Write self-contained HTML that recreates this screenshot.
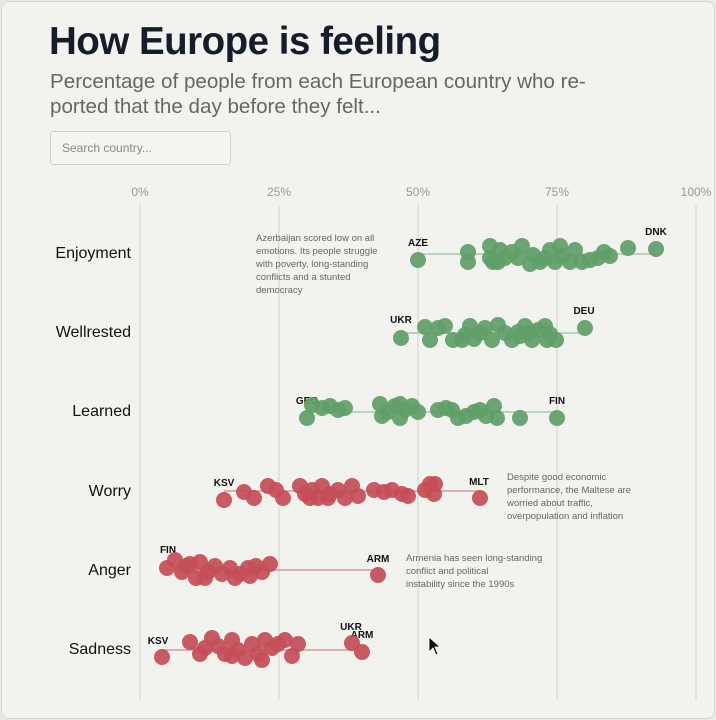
<!DOCTYPE html>
<html><head><meta charset="utf-8"><style>
body{margin:0;width:716px;height:720px;background:#e9e9e6;font-family:"Liberation Sans",sans-serif;overflow:hidden}
.card{position:absolute;left:1px;top:1px;width:712px;height:716px;background:#f2f2ef;border:1px solid #d8d8d4;border-radius:8px}
h1{position:absolute;left:49px;top:20px;margin:0;font-size:38.5px;font-weight:bold;color:#151d2b;letter-spacing:-0.5px}
.sub{position:absolute;left:50px;top:69px;width:600px;font-size:20.6px;line-height:25px;color:#666}
.search{position:absolute;left:50px;top:131px;width:181px;height:34px;border:1px solid #d0d0cc;border-radius:3px;background:#f4f4f1;font-size:12px;color:#888;line-height:33px;padding-left:11px;box-sizing:border-box}
</style></head><body>
<div class="card"></div>
<h1>How Europe is feeling</h1>
<div class="sub">Percentage of people from each European country who re-<br>ported that the day before they felt...</div>
<div class="search">Search country...</div>
<svg width="716" height="720" style="position:absolute;left:0;top:0" font-family="Liberation Sans, sans-serif">
<g stroke="#dcdcd8" stroke-width="1.5">
<line x1="140" y1="205" x2="140" y2="700"/><line x1="279" y1="205" x2="279" y2="700"/><line x1="418" y1="205" x2="418" y2="700"/><line x1="557" y1="205" x2="557" y2="700"/><line x1="696" y1="205" x2="696" y2="700"/>
</g>
<g font-size="12" fill="#999" text-anchor="middle">
<text x="140" y="196">0%</text><text x="279" y="196">25%</text><text x="418" y="196">50%</text><text x="557" y="196">75%</text><text x="696" y="196">100%</text>
</g>
<g font-size="16" fill="#111" text-anchor="end">
<text x="131" y="258">Enjoyment</text><text x="131" y="337">Wellrested</text><text x="131" y="416">Learned</text><text x="131" y="496">Worry</text><text x="131" y="575">Anger</text><text x="131" y="654">Sadness</text>
</g>
<g font-size="9.5" fill="#666">
<text x="256" y="241">Azerbaijan scored low on all</text><text x="256" y="254">emotions. Its people struggle</text><text x="256" y="267">with poverty, long-standing</text><text x="256" y="280">conflicts and a stunted</text><text x="256" y="293">democracy</text>
<text x="507" y="480">Despite good economic</text><text x="507" y="493">performance, the Maltese are</text><text x="507" y="506">worried about traffic,</text><text x="507" y="519">overpopulation and inflation</text>
<text x="406" y="561">Armenia has seen long-standing</text><text x="406" y="574">conflict and political</text><text x="406" y="587">instability since the 1990s</text>
</g>
<g font-size="10" font-weight="bold" fill="#111" text-anchor="middle">
<text x="418" y="246">AZE</text><text x="656" y="235">DNK</text><text x="401" y="323">UKR</text><text x="584" y="314">DEU</text><text x="307" y="404">GEO</text><text x="557" y="404">FIN</text>
<text x="224" y="486">KSV</text><text x="479" y="485">MLT</text><text x="168" y="553">FIN</text><text x="378" y="562">ARM</text><text x="158" y="644">KSV</text><text x="351" y="630">UKR</text><text x="362" y="638">ARM</text>
</g>
<g stroke-width="1.2"><line x1="418" y1="254" x2="656" y2="254" stroke="#9fbfa3"/><line x1="401" y1="333" x2="585" y2="333" stroke="#9fbfa3"/><line x1="307" y1="412" x2="557" y2="412" stroke="#9fbfa3"/>
<line x1="224" y1="491" x2="480" y2="491" stroke="#c98a90"/><line x1="167" y1="570" x2="378" y2="570" stroke="#c98a90"/><line x1="162" y1="650" x2="352" y2="650" stroke="#c98a90"/></g>
<g fill="#5f9e68" fill-opacity="0.92">
<circle cx="418" cy="260" r="8"/><circle cx="468" cy="252" r="8"/><circle cx="468" cy="262" r="8"/><circle cx="490" cy="246" r="8"/><circle cx="490" cy="258" r="8"/><circle cx="493" cy="262" r="8"/><circle cx="500" cy="250" r="8"/><circle cx="505" cy="258" r="8"/><circle cx="512" cy="252" r="8"/><circle cx="518" cy="258" r="8"/><circle cx="522" cy="246" r="8"/><circle cx="530" cy="264" r="8"/><circle cx="533" cy="255" r="8"/><circle cx="545" cy="258" r="8"/><circle cx="550" cy="250" r="8"/><circle cx="555" cy="262" r="8"/><circle cx="560" cy="246" r="8"/><circle cx="562" cy="256" r="8"/><circle cx="570" cy="262" r="8"/><circle cx="575" cy="250" r="8"/><circle cx="582" cy="262" r="8"/><circle cx="590" cy="260" r="8"/><circle cx="598" cy="258" r="8"/><circle cx="604" cy="252" r="8"/><circle cx="610" cy="256" r="8"/><circle cx="628" cy="248" r="8"/><circle cx="656" cy="249" r="8"/><circle cx="540" cy="262" r="8"/><circle cx="498" cy="262" r="8"/>
<circle cx="401" cy="338" r="8"/><circle cx="425" cy="327" r="8"/><circle cx="430" cy="340" r="8"/><circle cx="438" cy="328" r="8"/><circle cx="445" cy="326" r="8"/><circle cx="453" cy="340" r="8"/><circle cx="462" cy="340" r="8"/><circle cx="470" cy="326" r="8"/><circle cx="474" cy="339" r="8"/><circle cx="480" cy="333" r="8"/><circle cx="485" cy="328" r="8"/><circle cx="492" cy="340" r="8"/><circle cx="498" cy="325" r="8"/><circle cx="505" cy="333" r="8"/><circle cx="512" cy="340" r="8"/><circle cx="518" cy="332" r="8"/><circle cx="525" cy="326" r="8"/><circle cx="532" cy="340" r="8"/><circle cx="538" cy="330" r="8"/><circle cx="545" cy="326" r="8"/><circle cx="550" cy="334" r="8"/><circle cx="556" cy="340" r="8"/><circle cx="547" cy="340" r="8"/><circle cx="530" cy="333" r="8"/><circle cx="585" cy="328" r="8"/><circle cx="465" cy="335" r="8"/><circle cx="520" cy="336" r="8"/>
<circle cx="307" cy="418" r="8"/><circle cx="312" cy="405" r="8"/><circle cx="322" cy="408" r="8"/><circle cx="330" cy="406" r="8"/><circle cx="338" cy="410" r="8"/><circle cx="345" cy="408" r="8"/><circle cx="380" cy="404" r="8"/><circle cx="382" cy="416" r="8"/><circle cx="388" cy="412" r="8"/><circle cx="395" cy="406" r="8"/><circle cx="400" cy="418" r="8"/><circle cx="405" cy="410" r="8"/><circle cx="412" cy="406" r="8"/><circle cx="418" cy="412" r="8"/><circle cx="438" cy="410" r="8"/><circle cx="446" cy="408" r="8"/><circle cx="452" cy="410" r="8"/><circle cx="458" cy="418" r="8"/><circle cx="466" cy="416" r="8"/><circle cx="474" cy="412" r="8"/><circle cx="480" cy="410" r="8"/><circle cx="486" cy="416" r="8"/><circle cx="494" cy="406" r="8"/><circle cx="497" cy="418" r="8"/><circle cx="520" cy="418" r="8"/><circle cx="557" cy="418" r="8"/><circle cx="400" cy="404" r="8"/>
</g>
<g fill="#c44d58" fill-opacity="0.92">
<circle cx="224" cy="500" r="8"/><circle cx="244" cy="492" r="8"/><circle cx="254" cy="498" r="8"/><circle cx="268" cy="486" r="8"/><circle cx="276" cy="490" r="8"/><circle cx="283" cy="498" r="8"/><circle cx="300" cy="486" r="8"/><circle cx="305" cy="494" r="8"/><circle cx="312" cy="490" r="8"/><circle cx="318" cy="498" r="8"/><circle cx="322" cy="486" r="8"/><circle cx="330" cy="494" r="8"/><circle cx="338" cy="490" r="8"/><circle cx="345" cy="498" r="8"/><circle cx="352" cy="486" r="8"/><circle cx="358" cy="496" r="8"/><circle cx="374" cy="490" r="8"/><circle cx="384" cy="492" r="8"/><circle cx="392" cy="490" r="8"/><circle cx="402" cy="494" r="8"/><circle cx="408" cy="496" r="8"/><circle cx="425" cy="490" r="8"/><circle cx="430" cy="484" r="8"/><circle cx="434" cy="494" r="8"/><circle cx="435" cy="484" r="8"/><circle cx="480" cy="498" r="8"/><circle cx="310" cy="498" r="8"/><circle cx="328" cy="498" r="8"/>
<circle cx="167" cy="568" r="8"/><circle cx="175" cy="560" r="8"/><circle cx="182" cy="572" r="8"/><circle cx="190" cy="564" r="8"/><circle cx="196" cy="578" r="8"/><circle cx="200" cy="562" r="8"/><circle cx="208" cy="572" r="8"/><circle cx="215" cy="566" r="8"/><circle cx="222" cy="574" r="8"/><circle cx="230" cy="568" r="8"/><circle cx="240" cy="574" r="8"/><circle cx="248" cy="568" r="8"/><circle cx="256" cy="566" r="8"/><circle cx="262" cy="572" r="8"/><circle cx="270" cy="564" r="8"/><circle cx="378" cy="575" r="8"/><circle cx="186" cy="566" r="8"/><circle cx="205" cy="578" r="8"/><circle cx="235" cy="578" r="8"/><circle cx="250" cy="576" r="8"/>
<circle cx="162" cy="657" r="8"/><circle cx="190" cy="642" r="8"/><circle cx="200" cy="654" r="8"/><circle cx="205" cy="648" r="8"/><circle cx="212" cy="638" r="8"/><circle cx="218" cy="646" r="8"/><circle cx="225" cy="654" r="8"/><circle cx="232" cy="640" r="8"/><circle cx="238" cy="650" r="8"/><circle cx="245" cy="658" r="8"/><circle cx="252" cy="644" r="8"/><circle cx="258" cy="654" r="8"/><circle cx="265" cy="640" r="8"/><circle cx="272" cy="648" r="8"/><circle cx="278" cy="644" r="8"/><circle cx="285" cy="640" r="8"/><circle cx="292" cy="656" r="8"/><circle cx="298" cy="644" r="8"/><circle cx="352" cy="643" r="8"/><circle cx="362" cy="652" r="8"/><circle cx="232" cy="656" r="8"/><circle cx="262" cy="660" r="8"/>
</g>
<path d="M429 637 L429 652 L433 648 L436 655 L438 654 L435 647 L440 647 Z" fill="#111" stroke="#fff" stroke-width="0.8"/>
</svg>
</body></html>
